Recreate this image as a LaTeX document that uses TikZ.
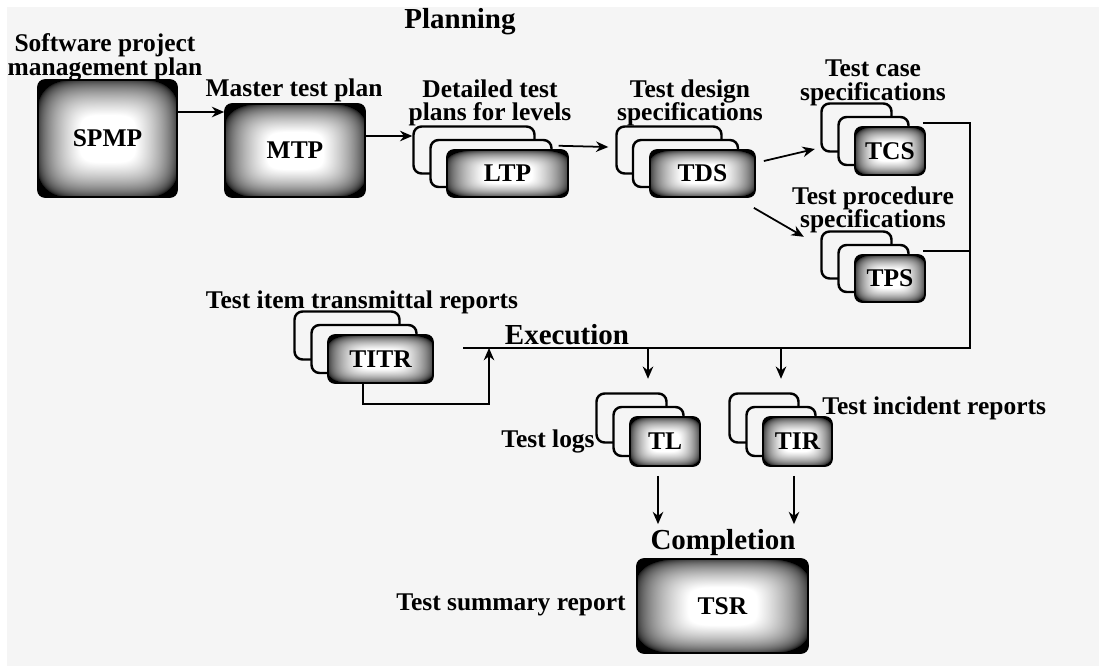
\documentclass[tikz,border=0pt]{standalone}
\usepackage{fontspec}
\setmainfont{Liberation Serif}
\usetikzlibrary{arrows.meta}
\definecolor{paper}{HTML}{F5F5F5}
\pgfdeclarefunctionalshading{glow}{\pgfpoint{-50bp}{-50bp}}{\pgfpoint{50bp}{50bp}}{}{%
  dup mul dup mul exch dup mul dup mul add sqrt sqrt
  26 exch sub 16 div
  dup abs add 2 div
  dup 1 sub abs neg 1 add add 2 div
  sqrt
  dup dup
}
\begin{document}
\begin{tikzpicture}[x=0.02cm,y=-0.02cm]
  \tikzstyle{every node}=[font=\bfseries\fontsize{14.5}{13.5}\selectfont,inner sep=0pt];
  \tikzstyle{card}=[draw,line width=1.4pt,rounded corners=0.16cm,fill=paper];
  \tikzstyle{doc}=[draw,line width=1pt,rounded corners=0.14cm,shade,shading=glow];
  \tikzstyle{head}=[font=\bfseries\fontsize{16.5}{18}\selectfont];
  \tikzstyle{link}=[draw,line width=1pt,-{Stealth[length=7pt,width=6pt]}];
  \useasboundingbox (0,0) rectangle (1099,666);
  \path[fill=paper] (7,7) rectangle (1099,666);

  % planning
  \path (460,22) node[head] (plan) {Planning};
  \path (107.5,138.5) node[doc,minimum width=2.78cm,minimum height=2.34cm] (spmp) {SPMP};
  \path (295,150.5) node[doc,minimum width=2.8cm,minimum height=1.86cm] (mtp) {MTP};
  \path (474,150) node[card,minimum width=2.42cm,minimum height=0.94cm] (ltp1) {};
  \path (491,163.5) node[card,minimum width=2.42cm,minimum height=0.94cm] (ltp2) {};
  \path (507.5,173.5) node[doc,minimum width=2.42cm,minimum height=0.94cm] (ltp) {LTP};
  \path (669,150) node[card,minimum width=2.1cm,minimum height=0.94cm] (tds1) {};
  \path (685.5,163.5) node[card,minimum width=2.1cm,minimum height=0.94cm] (tds2) {};
  \path (702.5,173.5) node[doc,minimum width=2.1cm,minimum height=0.94cm] (tds) {TDS};
  \path (856.5,127.5) node[card,minimum width=1.4cm,minimum height=0.96cm] (tcs1) {};
  \path (873.5,141) node[card,minimum width=1.4cm,minimum height=0.96cm] (tcs2) {};
  \path (890,151) node[doc,minimum width=1.4cm,minimum height=0.96cm] (tcs) {TCS};
  \path (856.5,255) node[card,minimum width=1.4cm,minimum height=0.94cm] (tps1) {};
  \path (873.5,268.5) node[card,minimum width=1.4cm,minimum height=0.94cm] (tps2) {};
  \path (890,278.5) node[doc,minimum width=1.4cm,minimum height=0.94cm] (tps) {TPS};

  \path (105,57) node[align=center] (spmplbl) {Software project\\management plan};
  \path (294,90) node (mtplbl) {Master test plan};
  \path (490,103) node[align=center] (ltplbl) {Detailed test\\plans for levels};
  \path (690,103) node[align=center] (tdslbl) {Test design\\specifications};
  \path (873,83) node[align=center] (tcslbl) {Test case\\specifications};
  \path (873,210) node[align=center] (tpslbl) {Test procedure\\specifications};

  % execution
  \path (567,335) node[head] (exec) {Execution};
  \path (347,335.5) node[card,minimum width=2.1cm,minimum height=0.96cm] (tttr1) {};
  \path (364,349) node[card,minimum width=2.1cm,minimum height=0.96cm] (tttr2) {};
  \path (380.5,359) node[doc,minimum width=2.1cm,minimum height=0.96cm] (tttr) {TITR};
  \path (631.5,418) node[card,minimum width=1.4cm,minimum height=0.98cm] (tl1) {};
  \path (648.5,431.5) node[card,minimum width=1.4cm,minimum height=0.98cm] (tl2) {};
  \path (665,441.5) node[doc,minimum width=1.4cm,minimum height=0.98cm] (tl) {TL};
  \path (764,418) node[card,minimum width=1.38cm,minimum height=0.98cm] (tir1) {};
  \path (781,431.5) node[card,minimum width=1.38cm,minimum height=0.98cm] (tir2) {};
  \path (797.5,441.5) node[doc,minimum width=1.38cm,minimum height=0.98cm] (tir) {TIR};

  \path (362,302) node (tttrlbl) {Test item transmittal reports};
  \path (595,441) node[anchor=east] (tllbl) {Test logs};
  \path (822,408) node[anchor=west] (tirlbl) {Test incident reports};

  % completion
  \path (723,543) node[head] (compl) {Completion};
  \path (722.5,606) node[doc,minimum width=3.42cm,minimum height=1.88cm] (tsr) {TSR};
  \path (626,605) node[anchor=east] (tsrlbl) {Test summary report};

  \coordinate (busr) at (970,348);
  \coordinate (busl) at (463,348);
  \coordinate (busup) at (489,348);
  \coordinate (busa) at (648,348);
  \coordinate (busb) at (781,348);

  \path[link] ([yshift=0.53cm]spmp.east) -- ([yshift=0.53cm]spmp.east -| mtp.west);
  \path[link] ([yshift=0.29cm]mtp.east) -- ([yshift=0.29cm]mtp.east -| ltp1.west);
  \path[link] ([xshift=0.12cm,yshift=-0.14cm]ltp2.north east) -- ([xshift=-0.14cm,yshift=0.06cm]tds1.west);
  \path[link] ([xshift=0.16cm,yshift=0.25cm]tds.east) -- ([xshift=-0.11cm,yshift=-0.43cm]tcs1.west);
  \path[link] ([xshift=-0.04cm,yshift=-0.2cm]tds.south east) -- ([xshift=-0.33cm,yshift=-0.13cm]tps1.north west);
  \path[draw,line width=1pt] ([xshift=-0.06cm,yshift=0.06cm]tcs.north east) -| (busr) -- (busl);
  \path[draw,line width=1pt] ([xshift=-0.06cm,yshift=0.06cm]tps.north east) -- ([yshift=0.06cm]tps.north east -| busr);
  \path[link] ([xshift=-0.35cm]tttr.south) -- ++(0,20) -| (busup);
  \path[link] (busa) -- ([yshift=0.27cm]busa |- tl1.north);
  \path[link] (busb) -- ([yshift=0.27cm]busb |- tir1.north);
  \path[link] ([xshift=-0.14cm,yshift=-0.18cm]tl.south) -- ([xshift=-0.14cm,yshift=0.68cm]tl.south |- tsr.north);
  \path[link] ([xshift=-0.07cm,yshift=-0.18cm]tir.south) -- ([xshift=-0.07cm,yshift=0.68cm]tir.south |- tsr.north);
\end{tikzpicture}
\end{document}
